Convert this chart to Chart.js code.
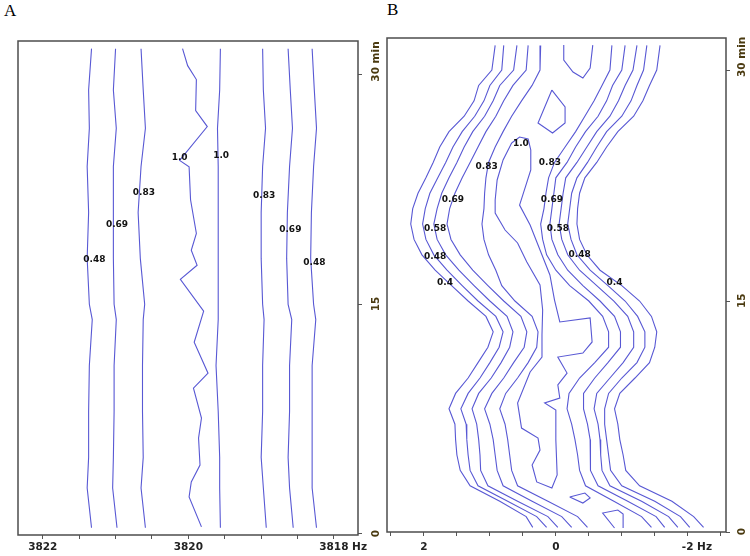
<!DOCTYPE html>
<html>
<head>
<meta charset="utf-8">
<script src="https://cdn.jsdelivr.net/npm/chart.js@4.4.1/dist/chart.umd.min.js"></script>
<style>
  html, body { margin: 0; padding: 0; background: #fff; }
  #wrap { position: relative; width: 750px; height: 556px; overflow: hidden; }
  .panel { position: absolute; top: 0; }
  .tag { position: absolute; font: 17px "Liberation Serif", serif; line-height: 17px; color: #000; }
</style>
</head>
<body>
<div id="wrap">
  <div class="tag" style="left:4px; top:2px;">A</div>
  <div class="tag" style="left:387px; top:1px;">B</div>
  <canvas id="chartA" class="panel" style="left:0" width="392" height="556"></canvas>
  <canvas id="chartB" class="panel" style="left:375px" width="375" height="556"></canvas>
</div>
<script>
// ---- panel A : 3818-3822 Hz, contours nearly vertical ----
const aTickHz = [3822, 3821.5, 3821, 3820.5, 3820, 3819.5, 3819, 3818.5, 3818];
const aTickText = ['3822', '', '', '', '3820', '', '', '', '     3818 Hz'];
const timeTicks = [0, 15, 30];
const timeTickText = [' 0', '15', '30 min'];

const aTime = [31.7, 29, 26.5, 24, 21, 18, 15, 14, 11, 8, 5, 3, 0.4];
const a048L = [3821.33, 3821.37, 3821.36, 3821.39, 3821.37, 3821.39, 3821.36, 3821.32, 3821.36, 3821.37, 3821.37, 3821.39, 3821.33];
const a069L = [3821.00, 3821.03, 3820.99, 3821.03, 3821.03, 3821.03, 3821.02, 3820.99, 3821.02, 3821.02, 3821.03, 3821.04, 3820.98];
const a083L = [3820.65, 3820.62, 3820.59, 3820.65, 3820.69, 3820.66, 3820.60, 3820.62, 3820.63, 3820.63, 3820.62, 3820.65, 3820.59];
const a100R = [3819.56, 3819.57, 3819.60, 3819.59, 3819.59, 3819.59, 3819.59, 3819.59, 3819.62, 3819.59, 3819.57, 3819.57, 3819.56];
const a083R = [3818.98, 3818.97, 3818.94, 3818.98, 3819.00, 3819.00, 3818.98, 3818.96, 3818.98, 3818.98, 3819.00, 3818.97, 3818.93];
const a069R = [3818.63, 3818.60, 3818.57, 3818.61, 3818.64, 3818.65, 3818.63, 3818.58, 3818.61, 3818.61, 3818.63, 3818.61, 3818.56];
const a048R = [3818.30, 3818.27, 3818.24, 3818.28, 3818.31, 3818.32, 3818.28, 3818.25, 3818.30, 3818.30, 3818.30, 3818.30, 3818.24];

// the jagged 1.0 contour on the left
const a100LTime = [31.70, 30.59, 29.68, 27.66, 26.61, 24.40, 23.99, 21.83, 19.63, 18.53, 17.55, 16.63, 14.55, 12.52, 10.50, 9.52, 7.57, 6.26, 4.50, 3.39, 2.41, 0.46];
const a100LHz = [3820.08, 3820.01, 3819.89, 3819.90, 3819.74, 3820.12, 3819.99, 3819.97, 3819.89, 3819.96, 3819.88, 3820.11, 3819.79, 3819.92, 3819.73, 3819.93, 3819.82, 3819.86, 3819.84, 3819.96, 3819.99, 3819.82];

const aLabelText = ['1.0', '1.0', '0.83', '0.83', '0.69', '0.69', '0.48', '0.48'];
const aLabelHz = [3820.12, 3819.55, 3820.61, 3818.96, 3820.98, 3818.60, 3821.29, 3818.27];
const aLabelMin = [24.6, 24.7, 22.3, 22.1, 20.2, 19.9, 17.9, 17.7];

// ---- panel B : -2..2 Hz, wavy track ----
const bTickHz = [2.5, 2, 1.5, 1, 0.5, 0, -0.5, -1, -1.5, -2, -2.5];
const bTickText = ['', '2', '', '', '', '0', '', '', '', '     -2 Hz', ''];

const bTime = [31.6, 30, 29, 28, 27, 26, 25, 24, 23, 22, 21, 20, 19, 18, 17, 16, 15, 14, 13, 12, 11, 10, 9, 8, 7, 6, 5, 4, 3, 2, 1, 0.3];
const b040L = [0.92, 0.97, 1.17, 1.24, 1.39, 1.62, 1.76, 1.86, 1.97, 2.09, 2.17, 2.20, 2.15, 2.03, 1.83, 1.58, 1.33, 1.06, 0.95, 1.03, 1.18, 1.33, 1.52, 1.62, 1.53, 1.52, 1.50, 1.45, 1.30, 0.85, 0.45, 0.35];
const b048L = [0.79, 0.82, 1.00, 1.09, 1.23, 1.42, 1.56, 1.67, 1.79, 1.91, 1.98, 2.02, 1.97, 1.85, 1.65, 1.42, 1.18, 0.91, 0.80, 0.86, 1.00, 1.15, 1.33, 1.44, 1.36, 1.35, 1.33, 1.30, 1.18, 0.73, 0.29, 0.14];
const b058L = [0.59, 0.64, 0.85, 0.95, 1.08, 1.26, 1.39, 1.50, 1.62, 1.73, 1.80, 1.85, 1.80, 1.67, 1.47, 1.24, 1.00, 0.74, 0.65, 0.70, 0.83, 0.98, 1.17, 1.27, 1.20, 1.17, 1.15, 1.14, 1.03, 0.58, 0.12, -0.03];
const b069L = [0.42, 0.45, 0.65, 0.79, 0.91, 1.06, 1.18, 1.30, 1.42, 1.53, 1.61, 1.65, 1.59, 1.45, 1.26, 1.03, 0.79, 0.53, 0.44, 0.48, 0.64, 0.79, 0.97, 1.08, 1.00, 0.95, 0.92, 0.89, 0.80, 0.36, -0.09, -0.24];
const b083L = [0.23, 0.24, 0.36, 0.52, 0.67, 0.80, 0.92, 1.02, 1.06, 1.08, 1.09, 1.12, 1.09, 1.02, 0.91, 0.82, 0.62, 0.36, 0.27, 0.29, 0.42, 0.58, 0.76, 0.85, 0.77, 0.73, 0.70, 0.67, 0.58, 0.12, -0.33, -0.48];
const b083R = [-0.85, -0.82, -0.70, -0.58, -0.44, -0.30, -0.14, 0.02, 0.11, 0.15, 0.18, 0.23, 0.20, 0.14, 0.00, -0.21, -0.50, -0.71, -0.80, -0.80, -0.59, -0.36, -0.20, -0.17, -0.24, -0.29, -0.33, -0.36, -0.45, -0.88, -1.30, -1.45];
const b069R = [-1.05, -1.00, -0.86, -0.77, -0.64, -0.45, -0.30, -0.17, 0.00, 0.03, 0.06, 0.09, 0.06, -0.03, -0.18, -0.41, -0.67, -0.89, -0.98, -0.98, -0.79, -0.59, -0.42, -0.42, -0.48, -0.52, -0.52, -0.53, -0.64, -1.09, -1.52, -1.65];
const b058R = [-1.23, -1.17, -1.05, -0.95, -0.82, -0.62, -0.47, -0.32, -0.15, -0.11, -0.08, -0.05, -0.09, -0.18, -0.36, -0.62, -0.88, -1.09, -1.18, -1.18, -1.02, -0.82, -0.62, -0.58, -0.64, -0.67, -0.68, -0.70, -0.82, -1.30, -1.71, -1.85];
const b048R = [-1.38, -1.33, -1.23, -1.14, -1.00, -0.77, -0.62, -0.48, -0.32, -0.24, -0.21, -0.18, -0.23, -0.32, -0.52, -0.79, -1.05, -1.24, -1.35, -1.35, -1.23, -1.00, -0.80, -0.74, -0.74, -0.77, -0.80, -0.83, -1.00, -1.50, -1.89, -2.03];
const b040R = [-1.58, -1.53, -1.42, -1.32, -1.18, -0.94, -0.77, -0.62, -0.44, -0.36, -0.33, -0.32, -0.36, -0.47, -0.67, -1.00, -1.27, -1.45, -1.53, -1.50, -1.42, -1.20, -0.97, -0.89, -0.94, -0.97, -1.02, -1.06, -1.27, -1.76, -2.09, -2.24];

// 1.0 islands in the middle
const bTopIslandHz = [-0.12, -0.12, -0.26, -0.41, -0.52, -0.56];
const bTopIslandMin = [31.62, 30.65, 29.87, 29.48, 30.13, 31.62];
const bDiamondHz = [0.06, -0.14, -0.14, 0.05, 0.27, 0.06];
const bDiamondMin = [28.70, 27.60, 26.56, 25.91, 26.56, 28.70];
const bRidgeHz = [0.67, 0.80, 0.89, 0.92, 0.92, 0.77, 0.58, 0.44, 0.24, 0.20, 0.21, 0.21, 0.39, 0.58, 0.52, 0.27, 0.24, 0.36, 0.29, 0.06, -0.02, 0.00, 0.00, 0.17, -0.06, -0.03, -0.17, -0.03, -0.41, -0.55, -0.52, -0.06, 0.02, 0.09, 0.24, 0.39, 0.55, 0.38, 0.38, 0.42, 0.55, 0.67];
const bRidgeMin = [25.26, 24.16, 22.86, 21.56, 20.71, 19.61, 18.77, 17.53, 16.04, 14.42, 12.79, 11.36, 10.39, 8.38, 6.75, 6.10, 5.32, 4.35, 3.25, 2.86, 3.70, 5.97, 7.92, 8.38, 8.70, 9.55, 10.32, 11.36, 11.62, 12.34, 13.90, 13.64, 15.06, 16.69, 18.31, 19.94, 21.23, 23.51, 24.81, 25.52, 25.65, 25.26];
const bSmallHz = [-0.21, -0.44, -0.52, -0.41, -0.21];
const bSmallMin = [2.27, 2.53, 2.21, 1.88, 2.27];
const bBottomHz = [-0.89, -0.71, -0.94, -1.02, -1.02];
const bBottomMin = [0.26, 1.23, 1.43, 1.17, 0.26];

const bLabelText = ['1.0', '0.83', '0.69', '0.58', '0.48', '0.4', '0.83', '0.69', '0.58', '0.48', '0.4'];
const bLabelHz = [0.53, 1.05, 1.56, 1.83, 1.83, 1.68, 0.09, 0.06, -0.03, -0.36, -0.89];
const bLabelMin = [25.2, 23.7, 21.6, 19.7, 17.9, 16.2, 24.0, 21.6, 19.7, 18.0, 16.2];

const LINE_COLOR = 'rgb(88, 88, 212)';

function pts(hz, time) {
    return hz.map((v, i) => ({x: v, y: time[i]}));
}

function contour(hz, time) {
    return {
        data: pts(hz, time),
        showLine: true,
        borderColor: LINE_COLOR,
        borderWidth: 1.1,
        pointRadius: 0,
        fill: false,
        tension: 0
    };
}

// box round the plot and the inline contour labels
const frameAndLabels = {
    id: 'frameAndLabels',
    afterDatasetsDraw(chart, args, opts) {
        const {ctx, chartArea: a, scales: {x, y}} = chart;
        ctx.save();
        ctx.strokeStyle = '#4d4d4d';
        ctx.lineWidth = 1.5;
        ctx.strokeRect(a.left, a.top, a.right - a.left, a.bottom - a.top);
        ctx.font = 'bold 9px "DejaVu Sans"';
        ctx.fillStyle = '#111';
        ctx.textAlign = 'center';
        ctx.textBaseline = 'middle';
        opts.text.forEach((t, i) => {
            ctx.fillText(t, x.getPixelForValue(opts.hz[i]), y.getPixelForValue(opts.min[i]));
        });
        ctx.restore();
    }
};

function makeConfig(p) {
    return {
        type: 'scatter',
        data: {datasets: p.datasets},
        options: {
            responsive: false,
            animation: false,
            layout: {padding: p.padding},
            plugins: {
                legend: {display: false},
                tooltip: {enabled: false},
                frameAndLabels: p.labels
            },
            scales: {
                x: {
                    type: 'linear',
                    reverse: true,
                    bounds: 'data',
                    min: p.xMin,
                    max: p.xMax,
                    afterBuildTicks: s => { s.ticks = p.xTicks.map(v => ({value: v})); },
                    afterFit: s => { s.height = p.xHeight; },
                    grid: {drawOnChartArea: false, tickLength: 4, color: '#555'},
                    border: {display: false},
                    ticks: {
                        autoSkip: false,
                        maxRotation: 0,
                        padding: p.xPad,
                        color: '#222',
                        font: {family: 'DejaVu Sans', size: 10.5, weight: 'bold'},
                        callback: v => p.xText[p.xTicks.indexOf(v)]
                    }
                },
                y: {
                    type: 'linear',
                    position: 'right',
                    bounds: 'data',
                    min: p.yMin,
                    max: p.yMax,
                    afterBuildTicks: s => { s.ticks = timeTicks.map(v => ({value: v})); },
                    afterFit: s => { s.width = p.yWidth; },
                    grid: {drawOnChartArea: false, tickLength: 4, color: '#555'},
                    border: {display: false},
                    ticks: {
                        autoSkip: false,
                        minRotation: 90,
                        maxRotation: 90,
                        labelOffset: 7,
                        padding: p.yPad,
                        color: '#4a3a10',
                        font: {family: 'DejaVu Sans', size: 10.5, weight: 'bold'},
                        callback: v => timeTickText[timeTicks.indexOf(v)]
                    }
                }
            }
        },
        plugins: [frameAndLabels]
    };
}

new Chart(document.getElementById('chartA'), makeConfig({
    datasets: [
        contour(a048L, aTime), contour(a069L, aTime), contour(a083L, aTime),
        contour(a100LHz, a100LTime),
        contour(a100R, aTime), contour(a083R, aTime), contour(a069R, aTime), contour(a048R, aTime)
    ],
    labels: {text: aLabelText, hz: aLabelHz, min: aLabelMin},
    padding: {left: 18, top: 41, right: 4, bottom: 0},
    xMin: 3817.67, xMax: 3822.34, xTicks: aTickHz, xText: aTickText, xHeight: 21, xPad: 2,
    yMin: -0.07, yMax: 32.2, yWidth: 30, yPad: 14
}));

new Chart(document.getElementById('chartB'), makeConfig({
    datasets: [
        contour(b040L, bTime), contour(b048L, bTime), contour(b058L, bTime), contour(b069L, bTime), contour(b083L, bTime),
        contour(b083R, bTime), contour(b069R, bTime), contour(b058R, bTime), contour(b048R, bTime), contour(b040R, bTime),
        contour(bTopIslandHz, bTopIslandMin), contour(bDiamondHz, bDiamondMin), contour(bRidgeHz, bRidgeMin),
        contour(bSmallHz, bSmallMin), contour(bBottomHz, bBottomMin)
    ],
    labels: {text: bLabelText, hz: bLabelHz, min: bLabelMin},
    padding: {left: 12, top: 38, right: 0, bottom: 2},
    xMin: -2.58, xMax: 2.56, xTicks: bTickHz, xText: bTickText, xHeight: 22, xPad: 5,
    yMin: 0, yMax: 32.08, yWidth: 24, yPad: 12
}));
</script>
</body>
</html>
